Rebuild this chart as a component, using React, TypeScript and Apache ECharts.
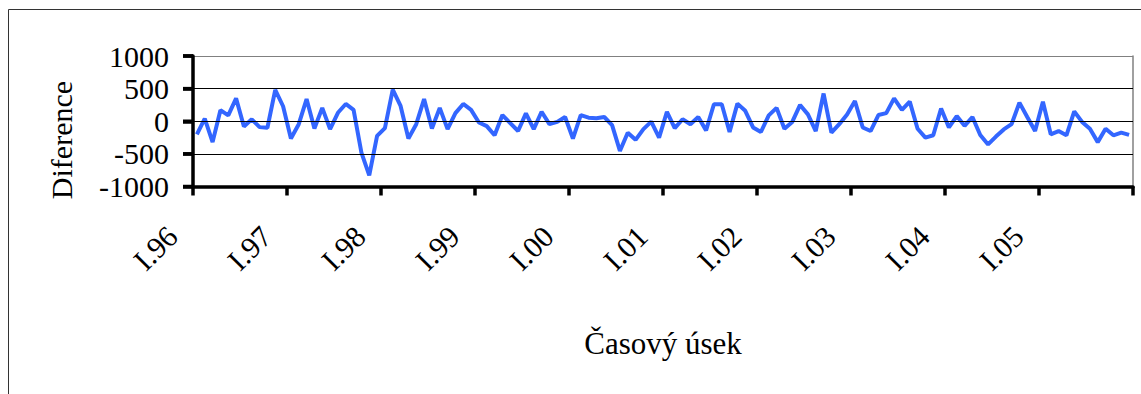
import React, { useEffect, useRef } from "react";
import * as echarts from "echarts";

const monthNumerals = ["I", "II", "III", "IV", "V", "VI", "VII", "VIII", "IX", "X", "XI", "XII"];
const years = ["96", "97", "98", "99", "00", "01", "02", "03", "04", "05"];
const categories = years.flatMap((y) => monthNumerals.map((m) => `${m}.${y}`));

const diff1996 = [-200, 40, -320, 170, 90, 350, -80, 30, -90, -100, 480, 230];
const diff1997 = [-265, -45, 340, -110, 205, -120, 130, 265, 175, -480, -830, -225];
const diff1998 = [-105, 485, 235, -265, -45, 340, -110, 205, -120, 125, 265, 175];
const diff1999 = [-20, -75, -215, 95, -30, -150, 120, -120, 145, -45, -10, 65];
const diff2000 = [-265, 95, 55, 45, 65, -60, -455, -175, -285, -120, -5, -250];
const diff2001 = [145, -105, 30, -45, 65, -140, 260, 260, -165, 270, 160, -95];
const diff2002 = [-165, 90, 205, -115, -10, 250, 105, -150, 425, -175, -45, 105];
const diff2003 = [310, -95, -150, 95, 125, 350, 175, 300, -115, -250, -215, 195];
const diff2004 = [-95, 80, -70, 65, -210, -355, -235, -125, -45, 285, 65, -150];
const diff2005 = [300, -200, -150, -215, 150, -10, -115, -320, -115, -215, -175, -210];

const diference = [
  ...diff1996, ...diff1997, ...diff1998, ...diff1999, ...diff2000,
  ...diff2001, ...diff2002, ...diff2003, ...diff2004, ...diff2005,
];

const yMin = -1000;
const yMax = 1000;
const yStep = 500;
const yTickValues = [-1000, -500, 0, 500, 1000];

const FONT = '"Liberation Serif", "Times New Roman", serif';
const GRID_LEFT = 193;
const TICK_LEN = 10;

export default function App() {
  const ref = useRef<HTMLDivElement>(null);
  useEffect(() => {
    if (!ref.current) return;
    const chart = echarts.init(ref.current, null, { renderer: "svg" });
    const everyYear = (i: number) => i % 12 === 0;
    chart.setOption({
      animation: false,
      grid: {
        left: GRID_LEFT,
        right: 8,
        top: 56,
        bottom: 207.5,
        show: false,
      },
      xAxis: {
        type: "category",
        data: categories,
        boundaryGap: true,
        position: "bottom",
        axisLine: { show: true, onZero: false, lineStyle: { color: "#000", width: 3.5 } },
        axisTick: {
          show: true,
          interval: everyYear,
          length: 9,
          lineStyle: { color: "#000", width: 3.5 },
        },
        axisLabel: {
          show: true,
          interval: everyYear,
          rotate: 45,
          margin: 20,
          padding: [0, 35, 0, 0],
          fontFamily: FONT,
          fontSize: 30,
          color: "#000",
        },
        splitLine: { show: false },
      },
      yAxis: [
        {
          type: "value",
          position: "left",
          min: yMin,
          max: yMax,
          interval: yStep,
          axisLine: { show: true, onZero: false, lineStyle: { color: "#000", width: 3.5 } },
          axisTick: {
            show: true,
            inside: false,
            length: TICK_LEN,
            lineStyle: { color: "#000", width: 3.5 },
          },
          axisLabel: {
            margin: 24,
            fontFamily: FONT,
            fontSize: 30,
            color: "#000",
            formatter: (v: number) => String(v),
          },
          splitLine: {
            show: true,
            lineStyle: { color: ["#000", "#000", "#000", "#000", "#808080"], width: 1 },
          },
          z: 5,
        },
        {
          type: "value",
          position: "right",
          min: yMin,
          max: yMax,
          interval: yStep,
          axisLine: { show: true, onZero: false, lineStyle: { color: "#808080", width: 1.5 } },
          axisTick: { show: false },
          axisLabel: { show: false },
          splitLine: { show: false },
        },
      ],
      series: [
        {
          type: "line",
          data: diference,
          yAxisIndex: 0,
          symbol: "none",
          showSymbol: false,
          lineStyle: { color: "#3366ff", width: 4 },
          itemStyle: { color: "#3366ff" },
          z: 3,
        },
      ],
    });

    const tickMarks = yTickValues.map((v) => {
      const py = chart.convertToPixel({ yAxisIndex: 0 }, v) as number;
      return {
        type: "line",
        silent: true,
        z: 10,
        shape: { x1: GRID_LEFT - TICK_LEN, y1: py, x2: GRID_LEFT, y2: py },
        style: { stroke: "#000", lineWidth: 3.5 },
      };
    });

    chart.setOption({
      graphic: [
        {
          type: "rect",
          silent: true,
          shape: { x: 8.5, y: 9.5, width: 1400, height: 700 },
          style: { fill: "none", stroke: "#333", lineWidth: 1 },
        },
        {
          type: "text",
          x: 61,
          y: 140,
          rotation: Math.PI / 2,
          style: {
            text: "Diference",
            font: `30px ${FONT}`,
            fill: "#000",
            align: "center",
            verticalAlign: "middle",
            textAlign: "center",
            textVerticalAlign: "middle",
          },
        },
        {
          type: "text",
          x: 663,
          y: 343,
          style: {
            text: "Časový úsek",
            font: `31px ${FONT}`,
            fill: "#000",
            align: "center",
            verticalAlign: "middle",
            textAlign: "center",
            textVerticalAlign: "middle",
          },
        },
        ...tickMarks,
      ],
    });
    return () => chart.dispose();
  }, []);
  return (
    <div
      ref={ref}
      style={{ position: "absolute", left: 0, top: 0, width: 1141, height: 394 }}
    />
  );
}
